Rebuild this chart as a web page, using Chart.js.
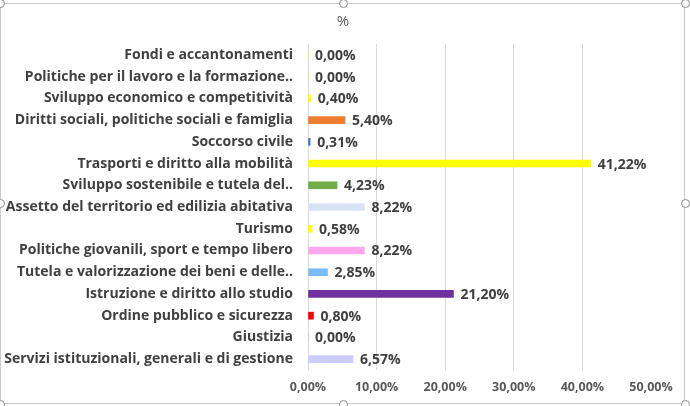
<!DOCTYPE html>
<html>
<head>
<meta charset="utf-8">
<script src="https://cdn.jsdelivr.net/npm/chart.js@4.4.1/dist/chart.umd.min.js"></script>
<style>
    html, body { margin: 0; padding: 0; background: #fff; }
    #wrap { width: 690px; height: 406px; position: relative; }
</style>
</head>
<body>
<div id="wrap"><canvas id="barChart" width="690" height="406"></canvas></div>
<script>
/* =======================================================
   DATA
   ======================================================= */
const categories = [
    "Fondi e accantonamenti",
    "Politiche per il lavoro e la formazione..",
    "Sviluppo economico e competitività",
    "Diritti sociali, politiche sociali e famiglia",
    "Soccorso civile",
    "Trasporti e diritto alla mobilità",
    "Sviluppo sostenibile e tutela del..",
    "Assetto del territorio ed edilizia abitativa",
    "Turismo",
    "Politiche giovanili, sport e tempo libero",
    "Tutela e valorizzazione dei beni e delle..",
    "Istruzione e diritto allo studio",
    "Ordine pubblico e sicurezza",
    "Giustizia",
    "Servizi istituzionali, generali e di gestione"
];
const percentValues = [0.00, 0.00, 0.40, 5.40, 0.31, 41.22, 4.23, 8.22, 0.58, 8.22, 2.85, 21.20, 0.80, 0.00, 6.57];
const barColors = [
    "#FFFF00", "#FFFF00", "#FFFF00", "#ED7D31", "#4472C4", "#FFFF00", "#70AD47",
    "#DAE3F3", "#FFFF00", "#FFA6EE", "#7ABCFA", "#7030A0", "#FF0000", "#A5A5A5", "#CCCCFF"
];
const xTicks = [0, 10, 20, 30, 40, 50];
const chartTitle = "%";

const FONT = "'Open Sans', 'Liberation Sans', Arial, sans-serif";

function fmtPct(v) {
    return v.toFixed(2).replace(".", ",") + "%";
}

/* =======================================================
   PLUGINS
   ======================================================= */
// data labels at the end of each bar
const barLabels = {
    id: "barLabels",
    afterDatasetsDraw(chart) {
        const ctx = chart.ctx;
        const meta = chart.getDatasetMeta(0);
        ctx.save();
        ctx.font = "bold 14px " + FONT;
        ctx.fillStyle = "#404040";
        ctx.textAlign = "left";
        ctx.textBaseline = "middle";
        meta.data.forEach((bar, i) => {
            ctx.fillText(fmtPct(percentValues[i]), bar.x + 7, bar.y + 1);
        });
        ctx.restore();
    }
};

// title centred on the whole frame + frame with selection handles (excel look)
const chartFrame = {
    id: "chartFrame",
    afterDraw(chart) {
        const ctx = chart.ctx;
        ctx.save();
        ctx.font = "15px " + FONT;
        ctx.fillStyle = "#595959";
        ctx.textAlign = "center";
        ctx.textBaseline = "middle";
        ctx.fillText(chartTitle, 343, 22);

        ctx.strokeStyle = "#C9C9C9";
        ctx.lineWidth = 1;
        ctx.strokeRect(0.5, 3.5, 684, 400);
        const pts = [[0, 3], [343, 3], [685, 3], [685, 203], [685, 404], [343, 404], [0, 404], [0, 203]];
        pts.forEach(p => {
            ctx.beginPath();
            ctx.arc(p[0] + 0.5, p[1] + 0.5, 4, 0, Math.PI * 2);
            ctx.fillStyle = "#fff";
            ctx.fill();
            ctx.strokeStyle = "#8C8C8C";
            ctx.stroke();
        });
        ctx.restore();
    }
};

/* =======================================================
   CHART.JS
   ======================================================= */
const ctx1 = document.getElementById("barChart");
new Chart(ctx1, {
    type: "bar",
    data: {
        labels: categories,
        datasets: [{
            label: chartTitle,
            data: percentValues,
            backgroundColor: barColors,
            barThickness: 7,
            borderWidth: 0
        }]
    },
    options: {
        indexAxis: "y",
        responsive: false,
        animation: false,
        layout: { padding: { left: 0, right: 39, top: 44, bottom: 0 } },
        plugins: {
            legend: { display: false },
            tooltip: { enabled: false },
            title: { display: false }
        },
        scales: {
            x: {
                min: 0,
                max: 50,
                afterBuildTicks: (scale) => { scale.ticks = xTicks.map(v => ({ value: v })); },
                afterFit: (scale) => { scale.height = 36; },
                border: { display: false },
                grid: {
                    drawTicks: false,
                    color: (c) => c.tick && c.tick.value === 50 ? "rgba(0,0,0,0)" : "#D9D9D9"
                },
                ticks: {
                    padding: 10,
                    color: "#595959",
                    font: { family: FONT, size: 12.5, weight: "bold" },
                    callback: (v) => fmtPct(v)
                }
            },
            y: {
                afterFit: (scale) => { scale.width = 308; },
                border: { display: false },
                grid: { display: false, drawTicks: false },
                ticks: {
                    padding: 15,
                    autoSkip: false,
                    color: "#404040",
                    font: { family: FONT, size: 14, weight: "bold" }
                }
            }
        }
    },
    plugins: [barLabels, chartFrame]
});
</script>
</body>
</html>
